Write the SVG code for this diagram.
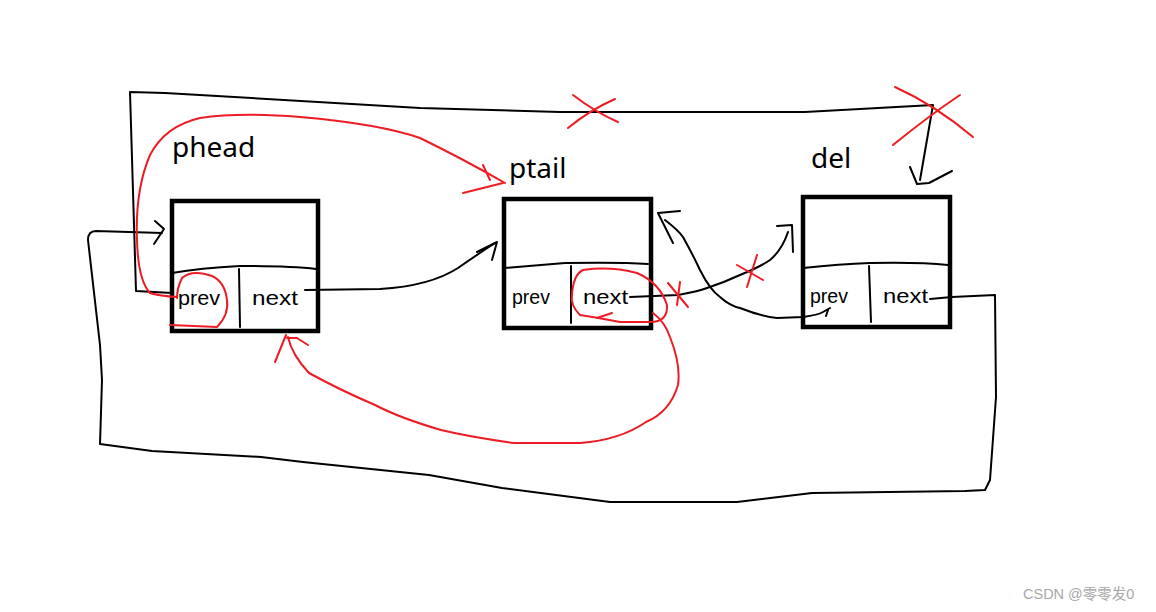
<svg xmlns="http://www.w3.org/2000/svg" width="1156" height="612" viewBox="0 0 1156 612">
<style>
.box{fill:none;stroke:#000;stroke-width:4.5}
.div{fill:none;stroke:#000;stroke-width:2;stroke-linecap:round}
.k{fill:none;stroke:#000;stroke-width:2;stroke-linecap:round;stroke-linejoin:round}
.r{fill:none;stroke:#ed1c24;stroke-width:2;stroke-linecap:round;stroke-linejoin:round}
.lbl{font-family:"Noto Sans","Liberation Sans",sans-serif;font-size:28px;fill:#000}
.hw{font-family:"Liberation Sans Narrow","Liberation Sans",sans-serif;font-size:21px;fill:#000}
.wm{font-family:"Liberation Sans","Noto Sans CJK SC",sans-serif;font-size:14.5px;fill:#a8a8a8}
</style>
<rect width="1156" height="612" fill="#fff"/>

<g id="phead">
<rect class="box" x="172" y="201" width="146" height="130"/>
<path class="div" d="M172,273 Q200,268 240,266 Q290,266 316,269"/>
<path class="div" d="M239,269 L240,327"/>
<text class="hw" x="178" y="305" textLength="42" lengthAdjust="spacingAndGlyphs">prev</text>
<text class="hw" x="252" y="305" textLength="46" lengthAdjust="spacingAndGlyphs">next</text>
<text class="lbl" x="172" y="157">phead</text>
</g>

<g id="ptail">
<rect class="box" x="504" y="199" width="147" height="129"/>
<path class="div" d="M504,268 Q540,265 565,263 Q620,262 648,264"/>
<path class="div" d="M571,266 L571,323"/>
<text class="hw" x="512" y="304" textLength="38" lengthAdjust="spacingAndGlyphs">prev</text>
<text class="hw" x="583" y="304" textLength="45" lengthAdjust="spacingAndGlyphs">next</text>
<text class="lbl" x="509" y="178">ptail</text>
</g>

<g id="del">
<rect class="box" x="803" y="197" width="147" height="130"/>
<path class="div" d="M803,268 Q840,264 870,263 Q920,262 948,265"/>
<path class="div" d="M869,266 L871,322"/>
<text class="hw" x="810" y="303" textLength="38" lengthAdjust="spacingAndGlyphs">prev</text>
<text class="hw" x="883" y="303" textLength="45" lengthAdjust="spacingAndGlyphs">next</text>
<text class="lbl" x="811" y="168">del</text>
</g>

<g id="connectors">
<!-- black: phead prev to del (top loop) -->
<path class="k" d="M172,293 L136,291 L130,92 L165,93 L420,108 L560,112 L805,112 L933,105 L920,180"/>
<path class="k" d="M910,167 L917,184 L929,183 L952,171"/>
<!-- black: del next to phead (bottom loop) -->
<path class="k" d="M930,299 L952,297 L995,295 L996,397 L990,480 L985,490 L965,491 L812,493 L737,502 L610,502 L502,488 L429,475 L303,462 L261,457 L152,451 L100,444 L102,380 L100,345 L88,240 Q88,231 96,231 L162,233"/>
<path class="k" d="M155,221 L164,229 L154,244"/>
<!-- black: phead next to ptail -->
<path class="k" d="M305,290 L380,289 Q430,286 458,268 Q478,254 495,243"/>
<path class="k" d="M477,252 L497,242 L492,260"/>
<!-- black: ptail next to del -->
<path class="k" d="M630,297 L678,295 Q700,291 707,288 Q725,282 740,275 Q760,267 770,260 Q782,250 788,232"/>
<path class="k" d="M777,226 L792,225 L793,252"/>
<!-- black: del prev to ptail -->
<path class="k" d="M665,220 Q678,230 683,237 Q693,255 700,270 Q710,290 720,297 Q730,306 740,308 Q760,316 777,318 L803,317 Q818,315 823,312 L830,308"/>
<path class="k" d="M828,310 L826,316"/>
<path class="k" d="M673,243 L658,213 L680,211"/>

<!-- red: phead prev circle and path to ptail -->
<path class="r" d="M170,325 L217,327 Q229,315 227,300 Q225,282 212,276 Q192,269 182,278 Q177,288 177,298"/>
<path class="r" d="M177,297 Q160,296 150,293 Q138,280 137,240 Q135,190 150,155 Q165,126 200,118 Q240,112 300,117 Q380,124 420,138 Q465,160 505,183"/>
<path class="r" d="M483,165 L490,180"/>
<path class="r" d="M463,193 L503,183"/>
<!-- red: ptail next circle and loop to phead -->
<path class="r" d="M583,270 Q610,266 637,273 Q660,283 667,305 Q668,322 650,322 L620,322 Q600,318 580,315 Q570,305 572,295 Q573,275 583,270 Z"/>
<path class="r" d="M612,313 L597,318"/>
<path class="r" d="M653,313 Q665,322 670,337 Q681,365 678,385 Q670,412 646,422 Q620,440 580,443 L514,443 Q470,437 441,430 Q400,418 375,405 Q340,390 309,373 Q292,355 288,337"/>
<path class="r" d="M275,362 L286,335"/>
<path class="r" d="M287,338 L297,338 L308,345"/>
<!-- red crosses -->
<path class="r" d="M573,95 Q595,112 618,122"/>
<path class="r" d="M568,128 Q590,110 615,99"/>
<path class="r" d="M895,87 Q935,105 973,137"/>
<path class="r" d="M893,145 Q930,115 960,95"/>
<path class="r" d="M737,265 L763,280"/>
<path class="r" d="M757,255 L747,287"/>
<path class="r" d="M668,283 L688,307"/>
<path class="r" d="M680,282 L677,305"/>
</g>

<text class="wm" x="1023" y="599">CSDN @零零发0</text>
</svg>
